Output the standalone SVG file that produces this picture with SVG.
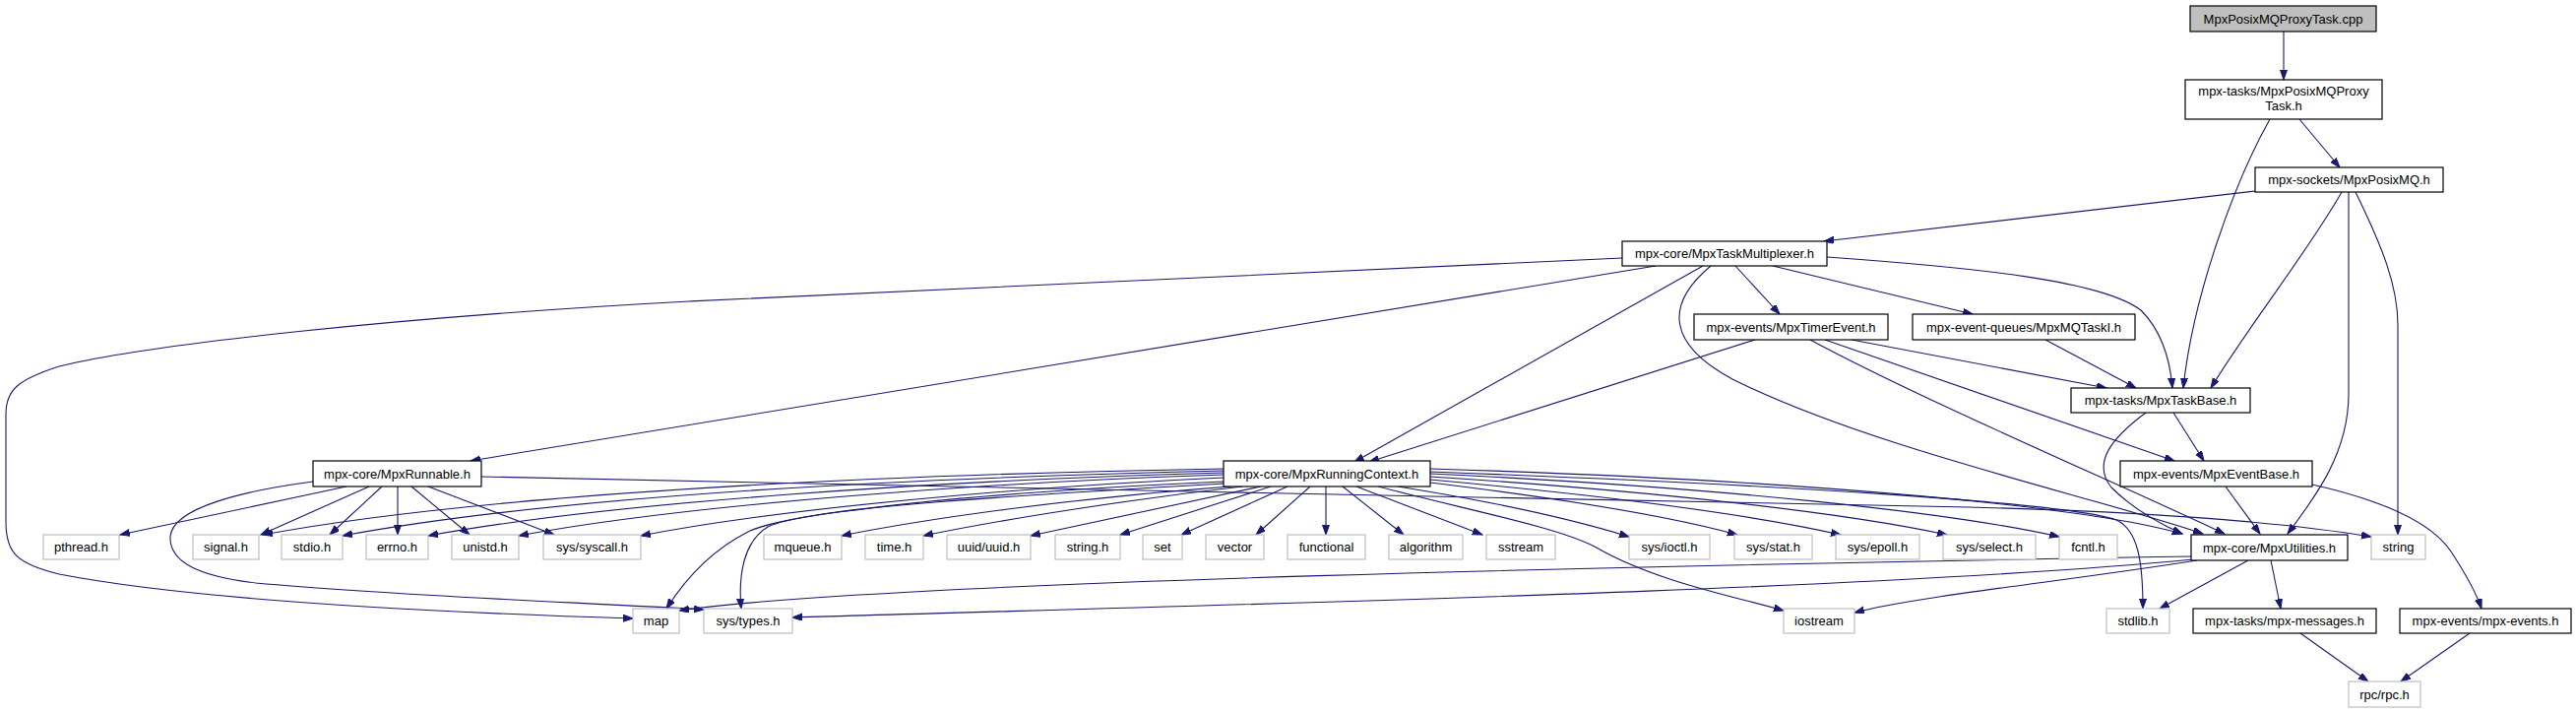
<svg xmlns="http://www.w3.org/2000/svg" width="2617" height="724" viewBox="0 0 2617 724">
<style>
.node rect{fill:#ffffff;stroke:#000000;stroke-width:1.2}
.node.ext rect{stroke:#bfbfbf}
.node.root rect{fill:#bfbfbf}
.node text{font-family:"Liberation Sans",Arial,sans-serif;font-size:13px;text-anchor:middle;fill:#000000}
.edges path{fill:none;stroke:#191970;stroke-width:1.1;marker-end:url(#arr)}
</style>
<defs>
<marker id="arr" markerUnits="userSpaceOnUse" markerWidth="11" markerHeight="8" refX="10" refY="3.5" orient="auto">
<path d="M0,0 L10,3.5 L0,7 Z" fill="#191970" stroke="#191970" stroke-width="1"/>
</marker>
</defs>
<rect width="2617" height="724" fill="#ffffff"/>
<g class="edges">
<path d="M2320,32 L2320,81"/>
<path d="M2336,121 L2377,170"/>
<path d="M2306,121 C2270,185 2228,300 2218,394"/>
<path d="M2379,195 C2345,255 2285,330 2246,394"/>
<path d="M2291,194 L1853,245"/>
<path d="M2386,195 L2386,400 C2386,460 2352,505 2324,542"/>
<path d="M2393,195 C2420,250 2436,290 2436,330 L2436,543"/>
<path d="M1648,262 C1300,276 1000,290 700,306 C400,322 150,350 60,372 C20,385 6,395 6,420 L6,530 C6,560 15,572 60,583 C200,610 450,622 643,628"/>
<path d="M1682,270 L478,468"/>
<path d="M1730,270 L1376,469"/>
<path d="M1738,270 C1690,310 1695,350 1760,385 C1900,455 2130,505 2238,542"/>
<path d="M1763,270 L1808,319"/>
<path d="M1801,270 L2004,319"/>
<path d="M1856,261 C2010,272 2135,285 2175,315 C2198,338 2205,370 2207,394"/>
<path d="M1783,345 L1391,469"/>
<path d="M1839,345 C1950,405 2150,490 2260,542"/>
<path d="M1854,345 L2209,468"/>
<path d="M1881,345 L2140,394"/>
<path d="M2078,345 L2170,394"/>
<path d="M2180,419 C2145,445 2125,470 2145,495 C2165,515 2190,530 2217,542"/>
<path d="M2208,419 L2239,468"/>
<path d="M2261,494 L2296,542"/>
<path d="M2349,492 C2420,508 2470,530 2490,560 C2505,583 2515,600 2521,618"/>
<path d="M2509,643 L2439,692"/>
<path d="M2337,643 L2406,692"/>
<path d="M2284,569 L2194,618"/>
<path d="M2307,569 L2317,618"/>
<path d="M2226,565 C1700,574 900,590 690,620"/>
<path d="M2228,568 C1900,600 1200,615 805,627"/>
<path d="M2232,569 C2100,590 1950,605 1884,622"/>
<path d="M352,494 L122,543"/>
<path d="M375,494 L265,543"/>
<path d="M388,494 L335,543"/>
<path d="M404,494 L404,543"/>
<path d="M418,494 L477,543"/>
<path d="M435,494 L563,543"/>
<path d="M318,489 C250,498 175,515 173,545 C172,570 200,585 260,592 C400,605 600,612 715,619"/>
<path d="M489,484 C900,492 1600,508 2000,515 C2200,520 2330,532 2409,545"/>
<path d="M1243,476 C900,482 500,500 267,543"/>
<path d="M1243,478 C900,486 560,505 348,544"/>
<path d="M1243,480 C950,488 620,510 435,544"/>
<path d="M1243,482 C1000,490 700,512 527,544"/>
<path d="M1243,485 C1050,494 800,515 651,544"/>
<path d="M1243,489 C1000,500 800,520 760,540 C720,560 695,590 677,618"/>
<path d="M1243,491 C1050,502 820,515 780,535 C755,550 750,585 753,618"/>
<path d="M1250,494 C1100,505 950,525 855,544"/>
<path d="M1262,494 C1150,507 1020,527 938,544"/>
<path d="M1281,494 L1047,544"/>
<path d="M1291,494 L1138,543"/>
<path d="M1308,494 L1200,543"/>
<path d="M1331,494 L1276,543"/>
<path d="M1347,494 L1347,543"/>
<path d="M1364,494 L1426,543"/>
<path d="M1378,494 L1506,543"/>
<path d="M1400,494 C1500,520 1580,535 1620,555 C1680,590 1760,605 1812,620"/>
<path d="M1420,494 C1520,510 1600,528 1655,545"/>
<path d="M1453,490 C1600,508 1700,525 1765,543"/>
<path d="M1453,487 C1650,505 1790,525 1870,543"/>
<path d="M1453,484 C1700,500 1880,522 1978,543"/>
<path d="M1453,481 C1750,495 1980,520 2092,545"/>
<path d="M1453,479 C1800,492 2100,510 2150,528 C2172,538 2177,570 2177,618"/>
<path d="M1453,476 C1850,488 2120,515 2217,542"/>
</g>
<g id="n_cpp" class="node root"><rect x="2225" y="6" width="189" height="26"/><text x="2319.5" y="23.5">MpxPosixMQProxyTask.cpp</text></g>
<g id="n_proxy" class="node"><rect x="2220" y="81" width="200" height="40"/><text x="2320" y="97">mpx-tasks/MpxPosixMQProxy</text><text x="2320" y="112">Task.h</text></g>
<g id="n_posixmq" class="node"><rect x="2291" y="170" width="191" height="25"/><text x="2386.5" y="187">mpx-sockets/MpxPosixMQ.h</text></g>
<g id="n_multiplexer" class="node"><rect x="1648" y="245" width="208" height="25"/><text x="1752" y="262">mpx-core/MpxTaskMultiplexer.h</text></g>
<g id="n_timerevent" class="node"><rect x="1721" y="319" width="197" height="26"/><text x="1819.5" y="336.5">mpx-events/MpxTimerEvent.h</text></g>
<g id="n_mqtaski" class="node"><rect x="1943" y="319" width="226" height="26"/><text x="2056" y="336.5">mpx-event-queues/MpxMQTaskI.h</text></g>
<g id="n_taskbase" class="node"><rect x="2104" y="394" width="182" height="25"/><text x="2195" y="411">mpx-tasks/MpxTaskBase.h</text></g>
<g id="n_runnable" class="node"><rect x="318" y="468" width="171" height="26"/><text x="403.5" y="485.5">mpx-core/MpxRunnable.h</text></g>
<g id="n_runningcontext" class="node"><rect x="1243" y="468" width="210" height="26"/><text x="1348" y="485.5">mpx-core/MpxRunningContext.h</text></g>
<g id="n_eventbase" class="node"><rect x="2154" y="468" width="195" height="26"/><text x="2251.5" y="485.5">mpx-events/MpxEventBase.h</text></g>
<g id="n_pthread" class="node ext"><rect x="44" y="543" width="77" height="25"/><text x="82.5" y="560">pthread.h</text></g>
<g id="n_signal" class="node ext"><rect x="196" y="543" width="67" height="25"/><text x="229.5" y="560">signal.h</text></g>
<g id="n_stdio" class="node ext"><rect x="286" y="543" width="62" height="25"/><text x="317" y="560">stdio.h</text></g>
<g id="n_errno" class="node ext"><rect x="372" y="543" width="63" height="25"/><text x="403.5" y="560">errno.h</text></g>
<g id="n_unistd" class="node ext"><rect x="459" y="543" width="68" height="25"/><text x="493" y="560">unistd.h</text></g>
<g id="n_syscall" class="node ext"><rect x="552" y="543" width="99" height="25"/><text x="601.5" y="560">sys/syscall.h</text></g>
<g id="n_mqueue" class="node ext"><rect x="776" y="543" width="79" height="25"/><text x="815.5" y="560">mqueue.h</text></g>
<g id="n_time" class="node ext"><rect x="879" y="543" width="59" height="25"/><text x="908.5" y="560">time.h</text></g>
<g id="n_uuid" class="node ext"><rect x="962" y="543" width="85" height="25"/><text x="1004.5" y="560">uuid/uuid.h</text></g>
<g id="n_stringh" class="node ext"><rect x="1072" y="543" width="66" height="25"/><text x="1105" y="560">string.h</text></g>
<g id="n_set" class="node ext"><rect x="1161" y="543" width="40" height="25"/><text x="1181" y="560">set</text></g>
<g id="n_vector" class="node ext"><rect x="1225" y="543" width="59" height="25"/><text x="1254.5" y="560">vector</text></g>
<g id="n_functional" class="node ext"><rect x="1308" y="543" width="79" height="25"/><text x="1347.5" y="560">functional</text></g>
<g id="n_algorithm" class="node ext"><rect x="1411" y="543" width="75" height="25"/><text x="1448.5" y="560">algorithm</text></g>
<g id="n_sstream" class="node ext"><rect x="1510" y="543" width="70" height="25"/><text x="1545" y="560">sstream</text></g>
<g id="n_ioctl" class="node ext"><rect x="1655" y="543" width="82" height="25"/><text x="1696" y="560">sys/ioctl.h</text></g>
<g id="n_stat" class="node ext"><rect x="1762" y="543" width="79" height="25"/><text x="1801.5" y="560">sys/stat.h</text></g>
<g id="n_epoll" class="node ext"><rect x="1865" y="543" width="85" height="25"/><text x="1907.5" y="560">sys/epoll.h</text></g>
<g id="n_select" class="node ext"><rect x="1974" y="543" width="94" height="25"/><text x="2021" y="560">sys/select.h</text></g>
<g id="n_fcntl" class="node ext"><rect x="2092" y="543" width="59" height="25"/><text x="2121.5" y="560">fcntl.h</text></g>
<g id="n_utilities" class="node"><rect x="2226" y="543" width="159" height="26"/><text x="2305.5" y="560.5">mpx-core/MpxUtilities.h</text></g>
<g id="n_string" class="node ext"><rect x="2409" y="543" width="55" height="25"/><text x="2436.5" y="560">string</text></g>
<g id="n_map" class="node ext"><rect x="643" y="618" width="47" height="25"/><text x="666.5" y="635">map</text></g>
<g id="n_systypes" class="node ext"><rect x="715" y="618" width="90" height="25"/><text x="760" y="635">sys/types.h</text></g>
<g id="n_iostream" class="node ext"><rect x="1812" y="618" width="72" height="25"/><text x="1848" y="635">iostream</text></g>
<g id="n_stdlib" class="node ext"><rect x="2140" y="618" width="64" height="25"/><text x="2172" y="635">stdlib.h</text></g>
<g id="n_messages" class="node"><rect x="2228" y="618" width="186" height="25"/><text x="2321" y="635">mpx-tasks/mpx-messages.h</text></g>
<g id="n_mpxevents" class="node"><rect x="2438" y="618" width="174" height="25"/><text x="2525" y="635">mpx-events/mpx-events.h</text></g>
<g id="n_rpc" class="node ext"><rect x="2386" y="692" width="73" height="26"/><text x="2422.5" y="709.5">rpc/rpc.h</text></g>
</svg>
